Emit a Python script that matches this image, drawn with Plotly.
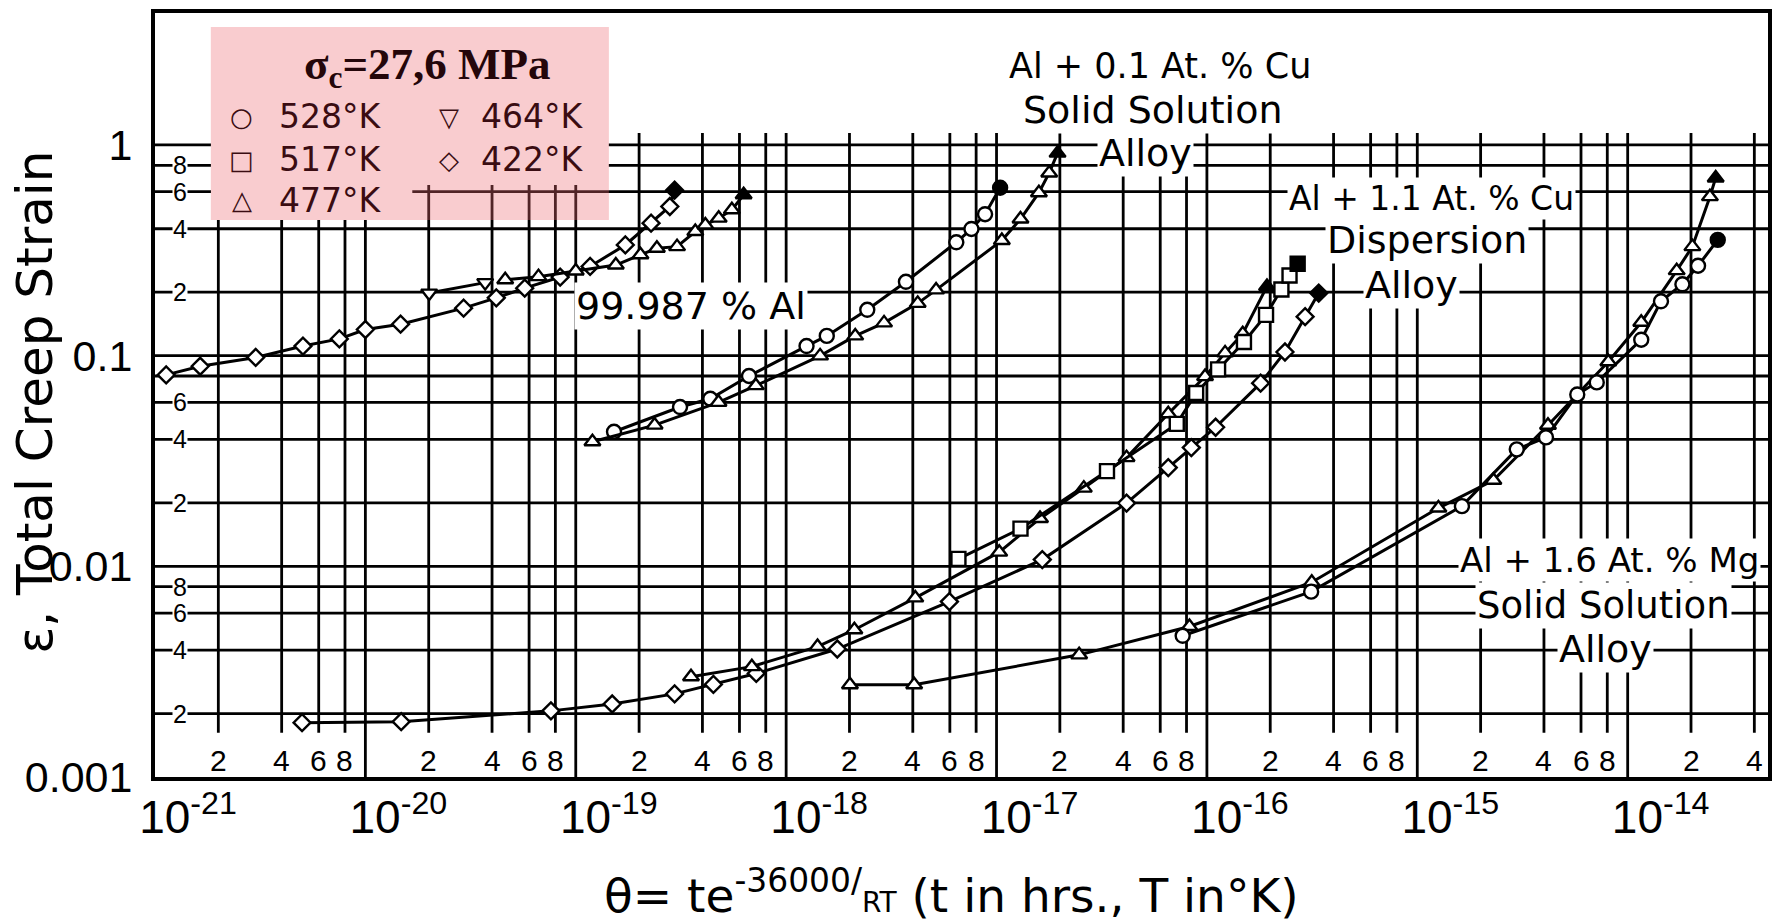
import math
import plotly.graph_objects as go

# ---------------- data: theta = t*exp(-36000/RT)  vs  total creep strain ----------------
# 99.987 % Al
al_422_theta = [1.13e-21, 1.64e-21, 3.01e-21, 5.05e-21, 7.52e-21, 1.0e-20, 1.47e-20, 2.93e-20,
                4.19e-20, 5.72e-20, 8.43e-20, 1.17e-19, 1.72e-19, 2.28e-19, 2.80e-19, 2.95e-19]
al_422_eps = [0.081, 0.089, 0.098, 0.111, 0.120, 0.133, 0.141, 0.168,
              0.188, 0.209, 0.236, 0.265, 0.335, 0.425, 0.51, 0.61]
al_464_theta = [2.01e-20, 3.71e-20]
al_464_eps = [0.198, 0.222]
al_477_theta = [4.62e-20, 6.65e-20, 1.0e-19, 1.55e-19, 2.03e-19, 2.43e-19, 3.03e-19, 3.70e-19,
                4.13e-19, 4.78e-19, 5.52e-19, 6.28e-19]
al_477_eps = [0.229, 0.237, 0.252, 0.269, 0.301, 0.323, 0.329, 0.388,
              0.417, 0.449, 0.492, 0.58]

# Al + 0.1 At.% Cu solid solution alloy
cu01_528_theta = [1.52e-19, 3.13e-19, 4.36e-19, 6.66e-19, 1.25e-18, 1.56e-18, 2.43e-18, 3.71e-18,
                  6.44e-18, 7.60e-18, 8.82e-18, 1.04e-17]
cu01_528_eps = [0.0435, 0.057, 0.0624, 0.080, 0.111, 0.124, 0.165, 0.224,
                0.345, 0.399, 0.469, 0.626]
cu01_477_theta = [1.20e-19, 2.37e-19, 4.77e-19, 7.18e-19, 1.45e-18, 2.13e-18, 2.92e-18, 4.22e-18,
                  5.16e-18, 1.06e-17, 1.30e-17, 1.59e-17, 1.78e-17, 1.95e-17]
cu01_477_eps = [0.039, 0.0468, 0.060, 0.072, 0.0997, 0.124, 0.143, 0.177,
                0.205, 0.352, 0.445, 0.593, 0.736, 0.914]

# Al + 1.1 At.% Cu dispersion alloy
cu11_422_theta = [5.0e-21, 1.48e-20, 7.62e-20, 1.49e-19, 2.95e-19, 4.51e-19, 7.21e-19, 1.75e-18,
                  5.97e-18, 1.65e-17, 4.15e-17, 6.55e-17, 8.43e-17, 1.10e-16, 1.80e-16, 2.35e-16,
                  2.93e-16, 3.40e-16]
cu11_422_eps = [0.00181, 0.00183, 0.00206, 0.00222, 0.00248, 0.00275, 0.0031, 0.00405,
                0.0068, 0.01076, 0.01995, 0.0294, 0.0366, 0.0457, 0.0740, 0.104,
                0.153, 0.198]
cu11_477_theta = [3.53e-19, 6.87e-19, 1.41e-18, 2.11e-18, 4.11e-18, 1.03e-17, 1.61e-17, 2.60e-17,
                  4.15e-17, 6.55e-17, 9.8e-17, 1.22e-16, 1.48e-16, 1.93e-16]
cu11_477_eps = [0.00299, 0.00334, 0.00416, 0.0050, 0.00708, 0.01167, 0.01687, 0.0235,
                0.0328, 0.053, 0.0795, 0.103, 0.127, 0.213]
cu11_517_theta = [6.59e-18, 1.30e-17, 3.35e-17, 7.19e-17, 8.89e-17, 1.13e-16, 1.50e-16, 1.91e-16,
                  2.26e-16, 2.47e-16, 2.70e-16]
cu11_517_eps = [0.01084, 0.0151, 0.0283, 0.0474, 0.0665, 0.0860, 0.116, 0.156,
                0.206, 0.240, 0.273]

# Al + 1.6 At.% Mg solid solution alloy
mg_477_theta = [2.01e-18, 4.06e-18, 2.47e-17, 8.26e-17, 3.15e-16, 1.26e-15, 2.30e-15, 4.18e-15,
                8.09e-15, 1.16e-14, 1.71e-14, 2.03e-14, 2.46e-14, 2.62e-14]
mg_477_eps = [0.00274, 0.00274, 0.0038, 0.00518, 0.0084, 0.0189, 0.0256, 0.0467,
              0.0935, 0.144, 0.253, 0.329, 0.568, 0.697]
mg_528_theta = [7.67e-17, 3.13e-16, 1.63e-15, 2.97e-15, 4.09e-15, 5.76e-15, 7.13e-15, 1.16e-14,
                1.44e-14, 1.82e-14, 2.16e-14, 2.68e-14]
mg_528_eps = [0.00468, 0.00758, 0.0193, 0.0359, 0.0409, 0.0654, 0.0746, 0.119,
              0.181, 0.218, 0.267, 0.354]

x_tick_exponents = [-21, -20, -19, -18, -17, -16, -15, -14]
y_tick_values = [0.001, 0.01, 0.1, 1]
y_tick_labels = ["0.001", "0.01", "0.1", "1"]
grid_mults = [1, 2, 4, 6, 8]
y_grid_values = [1, 0.8, 0.6, 0.4, 0.2, 0.1, 0.08, 0.06, 0.04, 0.02,
                 0.01, 0.008, 0.006, 0.004, 0.002]
y_minor_labels = {0.8: "8", 0.6: "6", 0.4: "4", 0.2: "2", 0.06: "6", 0.04: "4", 0.02: "2",
                  0.008: "8", 0.006: "6", 0.004: "4", 0.002: "2"}

# ---------------- layout constants ----------------
X_RANGE = [-21.0, -13.333]
Y_RANGE = [-3.0, 0.626]
x_left = 10 ** X_RANGE[0]
x_right = 10 ** X_RANGE[1]
y_bottom = 10 ** Y_RANGE[0]
GRID_TOP = 1.14
MINOR_BOTTOM = 0.00162
BOX_X = (10 ** -20.734, 10 ** -18.843)
BOX_Y = (10 ** -0.356, 10 ** 0.560)
BOX_OPEN_X = 10 ** -19.777
BOX_OPEN_TOP = 0.646

fig = go.Figure()

# ---------------- grid lines ----------------
hx, hy = [], []
for y in y_grid_values:
    if y in (1, 0.8):
        segs = [(x_left, BOX_X[0]), (BOX_X[1], x_right)]
    elif y == 0.6:
        segs = [(x_left, BOX_X[0]), (BOX_OPEN_X, x_right)]
    else:
        segs = [(x_left, x_right)]
    for a, b in segs:
        hx += [a, b, None]
        hy += [y, y, None]

vx, vy = [], []
for n in x_tick_exponents:
    for m in grid_mults:
        x = m * 10.0 ** n
        if x <= x_left * 1.001 or x >= x_right:
            continue
        bottom = y_bottom if m == 1 else MINOR_BOTTOM
        top = GRID_TOP
        if BOX_X[0] < x < BOX_X[1]:
            top = BOX_Y[0] if x < BOX_OPEN_X else BOX_OPEN_TOP
        vx += [x, x, None]
        vy += [bottom, top, None]

grid_line = dict(color="black", width=2.8)
fig.add_trace(go.Scatter(x=hx, y=hy, mode="lines", line=grid_line, hoverinfo="skip", showlegend=False))
fig.add_trace(go.Scatter(x=vx, y=vy, mode="lines", line=grid_line, hoverinfo="skip", showlegend=False))

# ---------------- creep curves ----------------
series = [
    (al_422_theta, al_422_eps, "diamond"),
    (al_464_theta, al_464_eps, "triangle-down"),
    (al_477_theta, al_477_eps, "triangle-up"),
    (cu01_528_theta, cu01_528_eps, "circle"),
    (cu01_477_theta, cu01_477_eps, "triangle-up"),
    (cu11_422_theta, cu11_422_eps, "diamond"),
    (cu11_477_theta, cu11_477_eps, "triangle-up"),
    (cu11_517_theta, cu11_517_eps, "square"),
    (mg_477_theta, mg_477_eps, "triangle-up"),
    (mg_528_theta, mg_528_eps, "circle"),
]
for xs, ys, sym in series:
    last_filled = sym != "triangle-down"
    colors = ["white"] * len(xs)
    if last_filled:
        colors[-1] = "black"
    fig.add_trace(go.Scatter(
        x=xs, y=ys, mode="lines+markers",
        line=dict(color="black", width=3),
        marker=dict(symbol=sym, size=14 if sym != "diamond" else 13, color=colors,
                    line=dict(color="black", width=2.4)),
        showlegend=False, hoverinfo="skip"))

# ---------------- annotations ----------------
ann = []
SANS = "DejaVu Sans"
NUM = "Liberation Sans"

def data_text(text, xval_log, yval_log, size, family=SANS, bg="white", pad=1):
    ann.append(dict(text=text, x=xval_log, y=yval_log, xref="x", yref="y", showarrow=False,
                    font=dict(family=family, size=size, color="black"),
                    bgcolor=bg, borderpad=pad, xanchor="center", yanchor="middle"))

# curve-group labels (positions in log10 units)
data_text("99.987 % Al", -18.454, -0.764, 38)
data_text("Al + 0.1 At. % Cu", -16.225, 0.375, 35)
data_text("Solid Solution", -16.254, 0.166, 38)
data_text("Alloy", -16.292, -0.038, 38)
data_text("Al + 1.1 At. % Cu", -14.931, -0.252, 33)
data_text("Dispersion", -14.955, -0.451, 38)
data_text("Alloy", -15.026, -0.664, 38)
data_text("Al + 1.6 At. % Mg", -14.087, -1.970, 34)
data_text("Solid Solution", -14.115, -2.188, 37)
data_text("Alloy", -14.106, -2.392, 38)

# inner minor labels on the y side
for val, lab in y_minor_labels.items():
    data_text(lab, -20.881, math.log10(val), 25, family=NUM, pad=0)

# inner minor labels along the bottom strip
for n in x_tick_exponents:
    for m in [2, 4, 6, 8]:
        xl = math.log10(m) + n
        if xl < X_RANGE[1] - 0.02:
            ann.append(dict(text=str(m), x=xl, y=math.log10(0.0012), xref="x", yref="y",
                            showarrow=False, font=dict(family=NUM, size=30, color="black"),
                            xanchor="center", yanchor="middle"))

# axis titles
ann.append(dict(text="θ= te<sup>-36000/</sup><span style='font-size:28px'>RT</span> (t in hrs., T in°K)",
                x=0.494, y=-0.150, xref="paper", yref="paper", showarrow=False,
                font=dict(family=SANS, size=47, color="black"), xanchor="center", yanchor="middle"))
ann.append(dict(text="ε, Total Creep Strain", x=-0.0745, y=0.491, xref="paper", yref="paper",
                showarrow=False, textangle=-90, font=dict(family=SANS, size=50, color="black"),
                xanchor="center", yanchor="middle"))

# legend box content
LEG = "#3a0c12"
ann.append(dict(text="<b>σ<sub>c</sub>=27,6 MPa</b>", x=0.1688, y=0.9293, xref="paper", yref="paper",
                showarrow=False, font=dict(family="Liberation Serif", size=45, color="#24060a"),
                xanchor="center", yanchor="middle"))
legend_rows = [
    ("○", "528°K", 0.0538, 0.1085, 0.8639),
    ("▽", "464°K", 0.1824, 0.2340, 0.8639),
    ("□", "517°K", 0.0538, 0.1085, 0.8076),
    ("◇", "422°K", 0.1824, 0.2340, 0.8076),
    ("△", "477°K", 0.0538, 0.1085, 0.7552),
]
for sym, lab, xs_, xt_, yy in legend_rows:
    ann.append(dict(text=f"<b>{sym}</b>", x=xs_, y=yy, xref="paper", yref="paper", showarrow=False,
                    font=dict(family=SANS, size=26, color=LEG), xanchor="center", yanchor="middle"))
    ann.append(dict(text=lab, x=xt_, y=yy, xref="paper", yref="paper", showarrow=False,
                    font=dict(family=SANS, size=33, color=LEG), xanchor="center", yanchor="middle"))

fig.update_layout(
    width=1775, height=922,
    margin=dict(l=155, r=3, t=13, b=145),
    paper_bgcolor="white", plot_bgcolor="white",
    showlegend=False,
    xaxis=dict(type="log", range=X_RANGE, showgrid=False, zeroline=False,
               showline=True, linecolor="black", linewidth=4, mirror=True, ticks="",
               tickvals=[10.0 ** n for n in x_tick_exponents],
               ticktext=[f"10<sup>{n}</sup>" for n in x_tick_exponents],
               tickfont=dict(family=NUM, size=46, color="black"),
               ticklabelshift=33, ticklabelstandoff=-3),
    yaxis=dict(type="log", range=Y_RANGE, showgrid=False, zeroline=False,
               showline=True, linecolor="black", linewidth=4, mirror=True, ticks="",
               tickvals=y_tick_values, ticktext=y_tick_labels,
               tickfont=dict(family=NUM, size=43, color="black"),
               ticklabelstandoff=10),
    annotations=ann,
    shapes=[dict(type="rect", xref="paper", yref="paper", x0=0.0346, x1=0.2814, y0=0.729, y1=0.9817,
                 fillcolor="rgba(236,105,115,0.34)", line=dict(width=0), layer="above")],
)

fig.write_html("out.html", config={"displayModeBar": False},
               post_script="document.body.style.margin='0px';document.body.style.overflow='hidden';")
